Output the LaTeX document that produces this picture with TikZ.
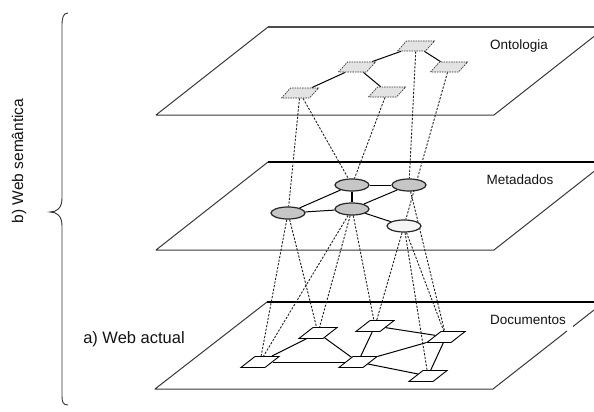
\documentclass[tikz,border=0pt]{standalone}
\usepackage{fontspec}
\setmainfont{Liberation Sans}
\usetikzlibrary{shapes.geometric}
\pgfdeclarelayer{planes}
\pgfdeclarelayer{links}
\pgfsetlayers{planes,links,main}

\begin{document}
\begin{tikzpicture}[x=1pt,y=-1pt,
  plane/.style={draw=gray!45!black, line width=1pt, line join=round},
  planetop/.style={draw=black, line width=1.4pt},
  onto/.style={trapezium, trapezium left angle=48, trapezium right angle=132,
    inner xsep=9.5pt, inner ysep=5pt, minimum size=0pt,
    draw=gray!40!black, dash pattern=on 1.5pt off 1pt, fill=gray!22, line width=0.7pt},
  meta/.style={ellipse, minimum width=34pt, minimum height=12pt, inner sep=0pt,
    draw=gray!30!black, line width=1.2pt, fill=gray!45},
  doc/.style={trapezium, trapezium left angle=38, trapezium right angle=142,
    inner xsep=5pt, inner ysep=5.5pt, minimum size=0pt,
    draw=black, line width=0.9pt, fill=white},
  tie/.style={draw=black, line width=1pt},
  ref/.style={draw=gray!25!black, line width=0.9pt, dash pattern=on 2.2pt off 1.5pt},
  lbl/.style={font=\fontsize{13.5}{15}\selectfont, text=gray!15!black}
]
\useasboundingbox (0,0) rectangle (594,412);

% three layers of the stack, on a white ground
\begin{pgfonlayer}{planes}
  \fill[white] (0,0) rectangle (594,412);
  % Ontologia
  \draw[draw=gray!60!black, line width=1.1pt] (268,27) -- (594,27);
  \draw[plane] (268,27) -- (156,115) -- (494,115) -- (594,36.4);
  % Metadados
  \draw[planetop] (268,162) -- (594,162);
  \draw[plane] (268,162) -- (156,250) -- (494,250) -- (594,171.4);
  % Documentos
  \draw[planetop] (267,302) -- (594,302);
  \draw[plane] (267,302) -- (155,389) -- (493,389) -- (567,331);
  \draw[plane] (573,326.5) -- (594,310);
\end{pgfonlayer}

% ontology terms
\node[onto] (n1) at (416,46) {};
\node[onto] (n2) at (357,67) {};
\node[onto] (n3) at (449,67) {};
\node[onto] (n4) at (300,93) {};
\node[onto] (n5) at (387,92) {};

% metadata records
\node[meta] (m1) at (352,185) {};
\node[meta] (m2) at (409,185) {};
\node[meta] (m3) at (352,209) {};
\node[meta] (m4) at (288,213) {};
\node[meta, fill=gray!8] (m5) at (404,226) {};

% documents
\node[doc] (d1) at (260,362) {};
\node[doc] (d2) at (318,333) {};
\node[doc] (d3) at (375,326) {};
\node[doc] (d4) at (446,337) {};
\node[doc] (d5) at (358,362) {};
\node[doc] (d6) at (428,376) {};

\begin{pgfonlayer}{links}
  % hierarchy of the ontology
  \draw[tie] (n1) -- (n2);
  \draw[tie] (n1) -- (n3);
  \draw[tie] (n2) -- (n4);
  \draw[tie] (n2) -- (n5);
  % relations among metadata
  \draw[tie] (m1) -- (m2);
  \draw[tie, line width=1.4pt] (m1) -- (m3);
  \draw[tie] (m4) -- (m1);
  \draw[tie] (m4) -- (m3);
  \draw[tie] (m3) -- (m2);
  \draw[tie] (m3) -- (m5);
  % hyperlinks between documents
  \draw[tie] (d1) -- (d2);
  \draw[tie] (d1) -- (d5);
  \draw[tie] (d2) -- (d5);
  \draw[tie] (d3) -- (d5);
  \draw[tie] (d3) -- (d4);
  \draw[tie] (d5) -- (d4);
  \draw[tie] (d5) -- (d6);
  \draw[tie] (d4) -- (d6);
  % ontology terms used by metadata
  \draw[ref] (n4) -- (m4);
  \draw[ref] (n4) -- (m1);
  \draw[ref] (n5) -- (m1);
  \draw[ref] (n1) -- (m2);
  \draw[ref] (n3) -- (m5);
  % metadata describing documents
  \draw[ref] (m4) -- (d1);
  \draw[ref] (m4) -- (d2);
  \draw[ref] (m3) -- (d1);
  \draw[ref] (m3) -- (d2);
  \draw[ref] (m3) -- (d3);
  \draw[ref] (m5) -- (d3);
  \draw[ref] (m5) -- (d6);
  \draw[ref] (m5) -- (d4);
  \draw[ref] (m2) -- (d4);
\end{pgfonlayer}

% layer names
\node[lbl] (lonto) at (519,46) {Ontologia};
\node[lbl] (lmeta) at (520,180) {Metadados};
\node[lbl] (ldoc) at (528,320) {Documentos};

\node[font=\fontsize{16.5}{18}\selectfont, text=gray!15!black] (atual) at (134,339) {a) Web actual};

% brace grouping the whole stack
\draw[draw=gray!40!black, line width=0.9pt]
  (68,13) .. controls (63,13) and (62,18) .. (62,26) -- (62,198)
  .. controls (62,208) and (57,212) .. (50,212)
  .. controls (57,212) and (62,216) .. (62,226) -- (62,396)
  .. controls (62,402) and (63,405) .. (68,405);
\node[rotate=90, font=\fontsize{15.5}{17}\selectfont, text=gray!15!black] (sem) at (19,161) {b) Web semântica};
\end{tikzpicture}
\end{document}
